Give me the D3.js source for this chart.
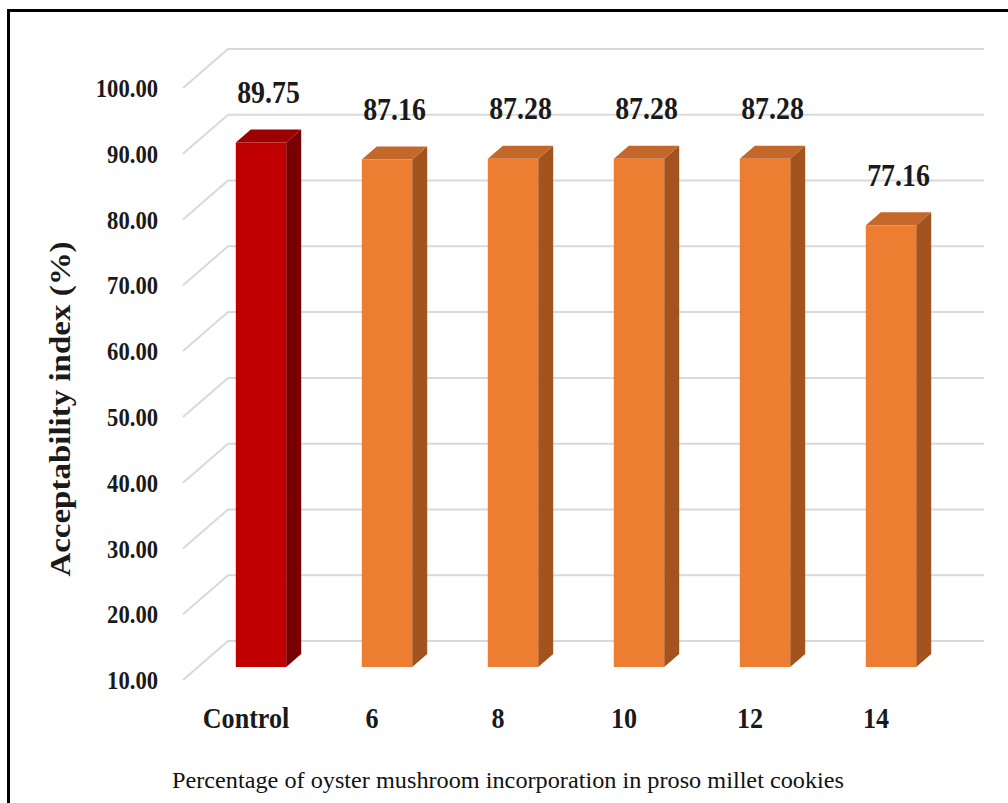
<!DOCTYPE html>
<html>
<head>
<meta charset="utf-8">
<script src="https://cdn.jsdelivr.net/npm/d3@7"></script>
<style>
  html, body { margin: 0; padding: 0; background: #fff; }
  svg { display: block; }
</style>
</head>
<body>
<div id="chart"></div>
<script>
// data
const categories = ["Control", "6", "8", "10", "12", "14"];
const values = [89.75, 87.16, 87.28, 87.28, 87.28, 77.16];
const yTicks = [10, 20, 30, 40, 50, 60, 70, 80, 90, 100];

const width = 1008, height = 803;
const svg = d3.select("#chart").append("svg")
  .attr("width", width)
  .attr("height", height);

// 3D depth vector (front plane -> back wall)
const DX = 45, DY = 39;
const d0 = 1 / 3, d1 = 2 / 3; // bar depth range
const shift = (p, d) => [p[0] + d * DX, p[1] - d * DY];

// scales live in the front plane
const x = d3.scaleBand().domain(categories).range([183, 939])
  .paddingInner(0.6).paddingOuter(0.3);
const y = d3.scaleLinear().domain([10, 100]).range([680, 88]);

// frame
svg.append("rect")
  .attr("x", 8.5).attr("y", 10.5)
  .attr("width", 1100).attr("height", 900)
  .attr("fill", "none").attr("stroke", "#000").attr("stroke-width", 3);

// gridlines: diagonal side wall + horizontal back wall
const grid = svg.append("g")
  .attr("stroke", "#d9d9d9").attr("stroke-width", 2).attr("fill", "none");
grid.selectAll("path")
  .data(yTicks)
  .join("path")
  .attr("d", t => {
    const a = [x.range()[0], y(t)];
    const b = shift(a, 1);
    const c = shift([x.range()[1], y(t)], 1);
    return d3.line()([a, b, c]);
  });

// tick labels
svg.append("g")
  .selectAll("text")
  .data(yTicks)
  .join("text")
  .attr("transform", t => `translate(158,${y(t)}) scale(0.87,1)`)
  .attr("dy", "0.35em")
  .attr("text-anchor", "end")
  .style("font-family", "'Liberation Serif', 'Times New Roman', serif")
  .style("font-weight", "bold")
  .style("font-size", "26px")
  .attr("fill", "#1a1a1a")
  .text(t => d3.format(".2f")(t));

// bars
const colors = (i) => i === 0
  ? { front: "#c00000", top: "#9c0000", side: "#780000" }
  : { front: "#ed7d31", top: "#c4672a", side: "#a3531d" };

const bars = svg.append("g")
  .selectAll("g")
  .data(categories.map((c, i) => ({ c, v: values[i], i })))
  .join("g");

bars.each(function(d) {
  const g = d3.select(this);
  const col = colors(d.i);
  const xl = x(d.c), xr = x(d.c) + x.bandwidth();
  const yt = y(d.v), yb = y(10);
  const fTL = shift([xl, yt], d0), fTR = shift([xr, yt], d0), fBR = shift([xr, yb], d0), fBL = shift([xl, yb], d0);
  const bTL = shift([xl, yt], d1), bTR = shift([xr, yt], d1), bBR = shift([xr, yb], d1);
  const poly = pts => d3.line()(pts) + "Z";
  g.append("path").attr("d", poly([fTR, bTR, bBR, fBR])).attr("fill", col.side);
  g.append("path").attr("d", poly([fTL, bTL, bTR, fTR])).attr("fill", col.top);
  g.append("path").attr("d", poly([fTL, fTR, fBR, fBL])).attr("fill", col.front);
});

// value labels
bars.append("text")
  .attr("transform", d => {
    const p = shift([x(d.c) + x.bandwidth() / 2, y(d.v)], (d0 + d1) / 2);
    return `translate(${p[0]},${p[1] - 33}) scale(0.87,1)`;
  })
  .attr("text-anchor", "middle")
  .style("font-family", "'Liberation Serif', 'Times New Roman', serif")
  .style("font-weight", "bold")
  .style("font-size", "32px")
  .attr("fill", "#1a1a1a")
  .text(d => d3.format(".2f")(d.v));

// category labels
svg.append("g")
  .selectAll("text")
  .data(categories)
  .join("text")
  .attr("transform", c => `translate(${x(c) + x.bandwidth() / 2},728) scale(0.87,1)`)
  .attr("text-anchor", "middle")
  .style("font-family", "'Liberation Serif', 'Times New Roman', serif")
  .style("font-weight", "bold")
  .style("font-size", "30px")
  .attr("fill", "#1a1a1a")
  .text(c => c);

// y axis title
svg.append("text")
  .attr("transform", "translate(70,409) scale(0.87,1) rotate(-90)")
  .attr("text-anchor", "middle")
  .style("font-family", "'Liberation Serif', 'Times New Roman', serif")
  .style("font-weight", "bold")
  .style("font-size", "33px")
  .attr("fill", "#1a1a1a")
  .text("Acceptability index (%)");

// x axis title
svg.append("text")
  .attr("x", 508).attr("y", 788)
  .attr("text-anchor", "middle")
  .attr("textLength", 672)
  .attr("lengthAdjust", "spacingAndGlyphs")
  .style("font-family", "'Liberation Serif', 'Times New Roman', serif")
  .style("font-size", "23px")
  .attr("fill", "#111")
  .text("Percentage of oyster mushroom incorporation in proso millet cookies");
</script>
</body>
</html>
